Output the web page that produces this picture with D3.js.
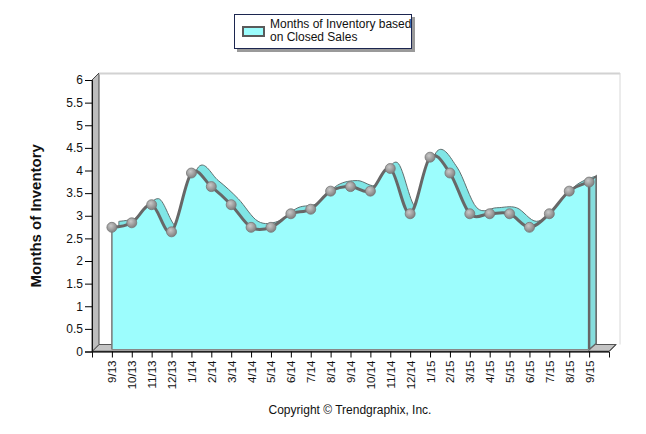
<!DOCTYPE html>
<html>
<head>
<meta charset="utf-8">
<script src="https://cdn.jsdelivr.net/npm/d3@7"></script>
<style>
  body { margin: 0; background: #fff; }
  svg { display: block; font-family: "Liberation Sans", Arial, sans-serif; }
</style>
</head>
<body>
<svg id="chart" width="646" height="434"></svg>
<script>
const months = ["9/13", "10/13", "11/13", "12/13", "1/14", "2/14", "3/14", "4/14", "5/14", "6/14",
  "7/14", "8/14", "9/14", "10/14", "11/14", "12/14", "1/15", "2/15", "3/15", "4/15", "5/15",
  "6/15", "7/15", "8/15", "9/15"];
const inventory = [2.7, 2.8, 3.2, 2.6, 3.9, 3.6, 3.2, 2.7, 2.7, 3.0, 3.1, 3.5, 3.6, 3.5, 4.0,
  3.0, 4.25, 3.9, 3.0, 3.0, 3.0, 2.7, 3.0, 3.5, 3.7];
const yTicks = [0, 0.5, 1, 1.5, 2, 2.5, 3, 3.5, 4, 4.5, 5, 5.5, 6];

const svg = d3.select('#chart');

// front plane of the axes, 3d depth goes right and up
const pLeft = 92, pRight = 609, pBottom = 351.5, pTop = 80;
const depthX = 7, depthY = -7;

const x = d3.scalePoint().domain(months).range([pLeft, pRight]).padding(1);
const y = d3.scaleLinear().domain([0, 6]).range([pBottom, pTop]);

// walls
svg.append('polygon')
  .attr('points', [[pLeft, pBottom], [pLeft + depthX, pBottom + depthY], [pRight + depthX, pBottom + depthY], [pRight, pBottom]].join(' '))
  .attr('fill', '#c4c4c4').attr('stroke', '#555').attr('stroke-width', 1);
svg.append('polygon')
  .attr('points', [[pLeft, pTop], [pLeft + depthX, pTop + depthY], [pLeft + depthX, pBottom + depthY], [pLeft, pBottom]].join(' '))
  .attr('fill', '#bdbdbd').attr('stroke', '#444').attr('stroke-width', 1);
svg.append('line')
  .attr('x1', pLeft + depthX).attr('x2', pRight + depthX + 4)
  .attr('y1', pTop + depthY + 0.5).attr('y2', pTop + depthY + 0.5)
  .attr('stroke', '#d2d2d2').attr('stroke-width', 2);
svg.append('line')
  .attr('x1', pRight + depthX + 4).attr('x2', pRight + depthX + 4)
  .attr('y1', pTop + depthY).attr('y2', pBottom + depthY)
  .attr('stroke', '#d8d8d8').attr('stroke-width', 1);

// series
const sx = 0, sy = -2, bx = 7, by = -8;
const curve = d3.curveCardinal.tension(0);

const area = (dx, dy) => d3.area()
  .x((d, i) => x(months[i]) + dx)
  .y0(y(0) + dy)
  .y1(d => y(d) + dy)
  .curve(curve);

const line = d3.line()
  .x((d, i) => x(months[i]) + sx)
  .y(d => y(d) + sy)
  .curve(curve);

// back face / top ribbon
svg.append('path')
  .attr('d', area(bx, by)(inventory))
  .attr('fill', '#80e6e6').attr('stroke', '#607070').attr('stroke-width', 1);

// right side face
const last = inventory.length - 1;
const lx = x(months[last]);
svg.append('polygon')
  .attr('points', [[lx + sx, y(inventory[last]) + sy], [lx + bx, y(inventory[last]) + by],
    [lx + bx, y(0) + by], [lx + sx, y(0) + sy]].join(' '))
  .attr('fill', '#86dede').attr('stroke', '#666').attr('stroke-width', 1.5);

// front face
svg.append('path')
  .attr('d', area(sx, sy)(inventory))
  .attr('fill', '#9cfdfd').attr('stroke', 'none');
svg.append('line')
  .attr('x1', x(months[0]) + sx).attr('x2', x(months[0]) + sx)
  .attr('y1', y(inventory[0]) + sy).attr('y2', y(0) + sy)
  .attr('stroke', '#777').attr('stroke-width', 1.5);
svg.append('line')
  .attr('x1', lx + sx).attr('x2', lx + sx)
  .attr('y1', y(inventory[last]) + sy).attr('y2', y(0) + sy)
  .attr('stroke', '#666').attr('stroke-width', 2.5);
svg.append('line')
  .attr('x1', x(months[0]) + sx).attr('x2', lx + sx)
  .attr('y1', y(0) + sy).attr('y2', y(0) + sy)
  .attr('stroke', '#888').attr('stroke-width', 1);

svg.append('path')
  .attr('d', line(inventory))
  .attr('fill', 'none').attr('stroke', '#676767').attr('stroke-width', 3);

const grad = svg.append('defs').append('radialGradient')
  .attr('id', 'ball').attr('cx', '40%').attr('cy', '35%').attr('r', '65%');
grad.append('stop').attr('offset', '0%').attr('stop-color', '#c8c8c8');
grad.append('stop').attr('offset', '100%').attr('stop-color', '#808080');

svg.append('g').selectAll('circle')
  .data(inventory)
  .join('circle')
  .attr('cx', (d, i) => x(months[i]) + sx)
  .attr('cy', d => y(d) + sy)
  .attr('r', 5)
  .attr('fill', 'url(#ball)')
  .attr('stroke', '#777').attr('stroke-width', 0.8);

// front floor line
svg.append('line')
  .attr('x1', pLeft).attr('x2', pRight)
  .attr('y1', pBottom).attr('y2', pBottom)
  .attr('stroke', '#333').attr('stroke-width', 1.5);
svg.append('line')
  .attr('x1', pRight).attr('x2', pRight + depthX)
  .attr('y1', pBottom).attr('y2', pBottom + depthY)
  .attr('stroke', '#333').attr('stroke-width', 1);

// axes
const yAxis = d3.axisLeft(y).tickValues(yTicks).tickSize(7).tickPadding(2).tickFormat(d3.format(''));
svg.append('g')
  .attr('transform', `translate(${pLeft},0)`)
  .call(yAxis)
  .call(g => g.select('.domain').attr('stroke', '#111'))
  .call(g => g.selectAll('text').attr('font-size', 12).attr('fill', '#111')
    .attr('font-family', '"Liberation Sans", Arial, sans-serif'));

const xAxis = d3.axisBottom(x).tickSize(6).tickSizeOuter(6);
svg.append('g')
  .attr('transform', `translate(0,${pBottom})`)
  .call(xAxis)
  .call(g => g.select('.domain').attr('stroke', '#111'))
  .call(g => g.selectAll('text')
    .attr('font-size', 11.5).attr('fill', '#111')
    .attr('font-family', '"Liberation Sans", Arial, sans-serif')
    .attr('transform', 'rotate(-90)')
    .attr('text-anchor', 'end')
    .attr('dy', '0.35em').attr('x', -9).attr('y', 0));

svg.append('text')
  .attr('transform', `translate(41,${(pTop + pBottom) / 2}) rotate(-90)`)
  .attr('text-anchor', 'middle')
  .attr('font-size', 15).attr('font-weight', 'bold').attr('fill', '#111')
  .text('Months of Inventory');

// legend
const legend = svg.append('g');
legend.append('rect').attr('x', 237).attr('y', 17).attr('width', 178).attr('height', 35).attr('fill', '#9a9a9a');
legend.append('rect').attr('x', 234.5).attr('y', 14.5).attr('width', 177).attr('height', 34)
  .attr('fill', '#fff').attr('stroke', '#1c2650').attr('stroke-width', 1);
legend.append('rect').attr('x', 243).attr('y', 27).attr('width', 21).attr('height', 9)
  .attr('fill', '#9cfdfd').attr('stroke', '#5a5a5a').attr('stroke-width', 2);
legend.append('text').attr('x', 270).attr('y', 28).attr('font-size', 12).attr('fill', '#111')
  .text('Months of Inventory based');
legend.append('text').attr('x', 270).attr('y', 41).attr('font-size', 12).attr('fill', '#111')
  .text('on Closed Sales');

svg.append('text')
  .attr('x', 350).attr('y', 414)
  .attr('text-anchor', 'middle')
  .attr('font-size', 12).attr('fill', '#111')
  .text('Copyright © Trendgraphix, Inc.');
</script>
</body>
</html>
